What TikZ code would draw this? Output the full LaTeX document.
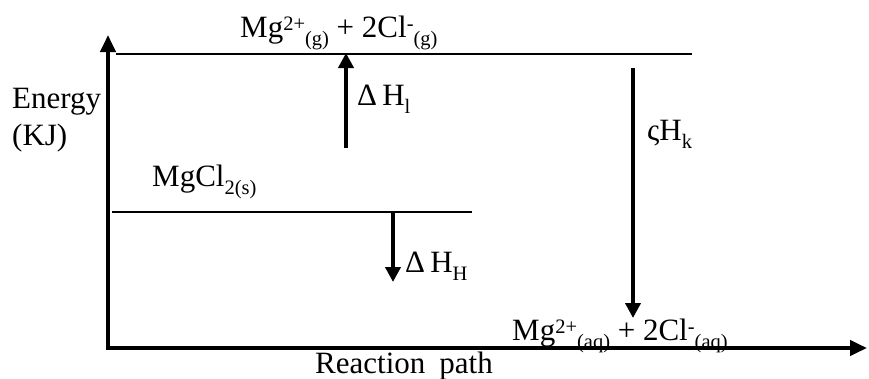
\documentclass[tikz,border=0pt]{standalone}
\usepackage{fontspec}
\setmainfont{Liberation Serif}
\usetikzlibrary{arrows.meta}
\newcommand\mysub[1]{\raisebox{-0.27em}{\fontsize{20.5}{22}\selectfont #1}}
\newcommand\mysup[1]{\raisebox{0.21em}{\fontsize{20.5}{22}\selectfont #1}}
\tikzset{
  lbl/.style={inner sep=0pt, anchor=base west, font=\fontsize{31}{33}\selectfont},
  axis/.style={line width=4pt, -{Triangle[length=17pt,width=15pt]}},
  level/.style={line width=1.5pt},
  enarrow/.style={line width=4pt, -{Triangle[length=15pt,width=15pt]}}
}
\begin{document}
\begin{tikzpicture}[x=1pt,y=-1pt]
\useasboundingbox (0,0) rectangle (869,378);
% axes
\coordinate (O) at (108,350);
\coordinate (Ytop) at (108,35);
\coordinate (O2) at (106,348);
\coordinate (Xend) at (867,348);
\draw[axis] (O) -- (Ytop);
\draw[axis] (O2) -- (Xend);
% levels
\coordinate (L1a) at (116,54);
\coordinate (L1b) at (692,54);
\draw[level] (L1a) -- (L1b);
\coordinate (L2a) at (112,212);
\coordinate (L2b) at (472,212);
\draw[level] (L2a) -- (L2b);
% energy arrows
\coordinate (A1s) at (346,148);
\coordinate (A1e) at (346,53);
\draw[enarrow] (A1s) -- (A1e);
\coordinate (A2s) at (393,212);
\coordinate (A2e) at (393,282);
\draw[enarrow] (A2s) -- (A2e);
\coordinate (A3s) at (633,68);
\coordinate (A3e) at (633,318);
\draw[enarrow] (A3s) -- (A3e);
% labels
\node[lbl] (en) at (12,108) {Energy};
\node[lbl] (kj) at (12,145) {(KJ)};
\node[lbl] (top) at (240,37) {Mg\mysup{2+}\mysub{(g)} + 2Cl\mysup{-}\mysub{(g)}};
\node[lbl] (mgcl) at (152,186) {MgCl\mysub{2(s)}};
\node[lbl] (dh1) at (357,105) {Δ\,H\mysub{l}};
\node[lbl] (dhh) at (405,272) {Δ\,H\mysub{H}};
\node[lbl] (shk) at (647,140) {ςH\mysub{k}};
\node[lbl] (bot) at (512,340) {Mg\mysup{2+}\mysub{(aq)} + 2Cl\mysup{-}\mysub{(aq)}};
\node[lbl] (rp) at (315,373) {Reaction\hspace{14pt}path};
\end{tikzpicture}
\end{document}
